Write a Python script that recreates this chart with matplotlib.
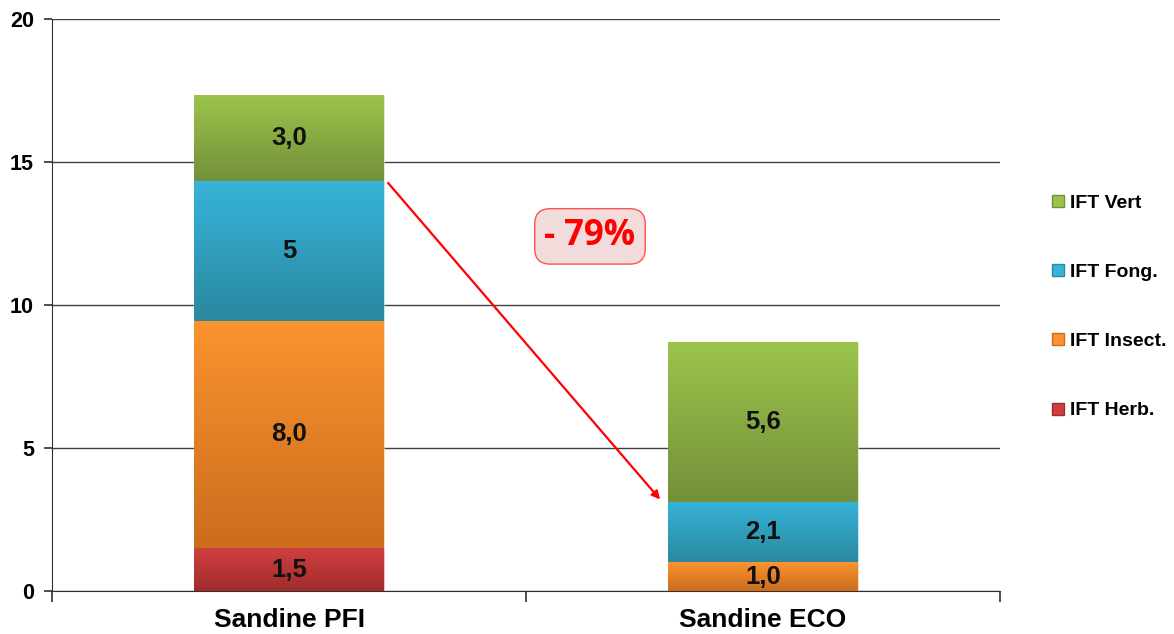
import numpy as np
import matplotlib.pyplot as plt
from matplotlib.colors import LinearSegmentedColormap
from matplotlib.lines import Line2D

# donnees
categories = ["Sandine PFI", "Sandine ECO"]
series = ["IFT Herb.", "IFT Insect.", "IFT Fong.", "IFT Vert"]
herb = [1.5, 0.0]
insect = [7.95, 1.0]
fong = [4.9, 2.1]
vert = [3.0, 5.6]
labels_pfi = ["1,5", "8,0", "5", "3,0"]
labels_eco = ["", "1,0", "2,1", "5,6"]
reduction = "- 79%"

top_cols = ["#cf403e", "#fb932e", "#37b4da", "#9cc44b"]
bot_cols = ["#a02c2d", "#cb6d1e", "#2a889f", "#73903a"]

plt.rcParams['font.family'] = ['Liberation Sans', 'DejaVu Sans']

fig = plt.figure(figsize=(11.74, 6.34), dpi=100)
ax = fig.add_axes([0.0443, 0.0678, 0.8075, 0.9022])

x = np.arange(len(categories))
data = [herb, insect, fong, vert]
bottom = np.zeros(len(categories))
grad = np.linspace(1, 0, 256).reshape(-1, 1)
handles = []
for i, vals in enumerate(data):
    bars = ax.bar(x, vals, 0.4, bottom=bottom, color=top_cols[i],
                  edgecolor=(1, 1, 1, 0.35), linewidth=1, zorder=3)
    cmap = LinearSegmentedColormap.from_list("g%d" % i, [bot_cols[i], top_cols[i]])
    for p in bars:
        if p.get_height() <= 0:
            continue
        im = ax.imshow(grad, cmap=cmap, aspect='auto', zorder=3.5,
                       extent=[p.get_x(), p.get_x() + p.get_width(),
                               p.get_y(), p.get_y() + p.get_height()])
        im.set_clip_path(p)
    bottom = bottom + np.array(vals)
    handles.append(Line2D([], [], marker='s', linestyle='', markersize=8.5,
                          markerfacecolor=top_cols[i], markeredgecolor=bot_cols[i]))

# etiquettes
for j, labs in enumerate([labels_pfi, labels_eco]):
    b = 0
    for i, vals in enumerate(data):
        v = vals[j]
        if labs[i]:
            ax.text(x[j], b + v / 2, labs[i], ha='center', va='center',
                    fontsize=18.5, fontweight='bold', color='#111111', zorder=5)
        b += v

ax.set_xlim(-0.5, 1.5)
ax.set_ylim(0, 20)
ax.set_yticks([0, 5, 10, 15, 20])
ax.set_yticklabels(["0", "5", "10", "15", "20"], fontsize=15.5, fontweight='bold')
ax.set_xticks(x)
ax.set_xticklabels(categories, fontsize=19, fontweight='bold')
ax.tick_params(axis='x', length=0, pad=12)
ax.set_xticks([-0.5, 0.5, 1.5], minor=True)
ax.tick_params(axis='x', which='minor', length=8, width=1.2, color='#303030')
ax.tick_params(axis='y', length=6, width=1.2, pad=7, color='#303030')
ax.yaxis.grid(True, color='#404040', linewidth=1)
ax.set_axisbelow(True)
for s in ['top', 'right']:
    ax.spines[s].set_visible(False)
ax.spines['left'].set_color('#303030')
ax.spines['bottom'].set_color('#303030')

# fleche et reduction
ax.annotate("", xy=(0.783, 3.2), xytext=(0.209, 14.27),
            arrowprops=dict(arrowstyle='-|>', color='red', lw=1.6,
                            mutation_scale=12, shrinkA=0, shrinkB=0), zorder=6)
ax.text(0.635, 12.4, reduction, ha='center', va='center', color='red',
        fontsize=25, fontweight='bold', family=['Open Sans', 'DejaVu Sans'], zorder=6,
        bbox=dict(boxstyle='round,pad=0.28,rounding_size=0.45', facecolor='#f2dcdb',
                  edgecolor='#ff5050', linewidth=1))

fig.legend(handles[::-1], series[::-1], loc='upper left',
           bbox_to_anchor=(0.8808, 0.721), frameon=False,
           prop={'weight': 'bold', 'size': 14}, labelspacing=2.65,
           handlelength=0.7, handletextpad=0.25)

fig.savefig("out.png", dpi=100)
